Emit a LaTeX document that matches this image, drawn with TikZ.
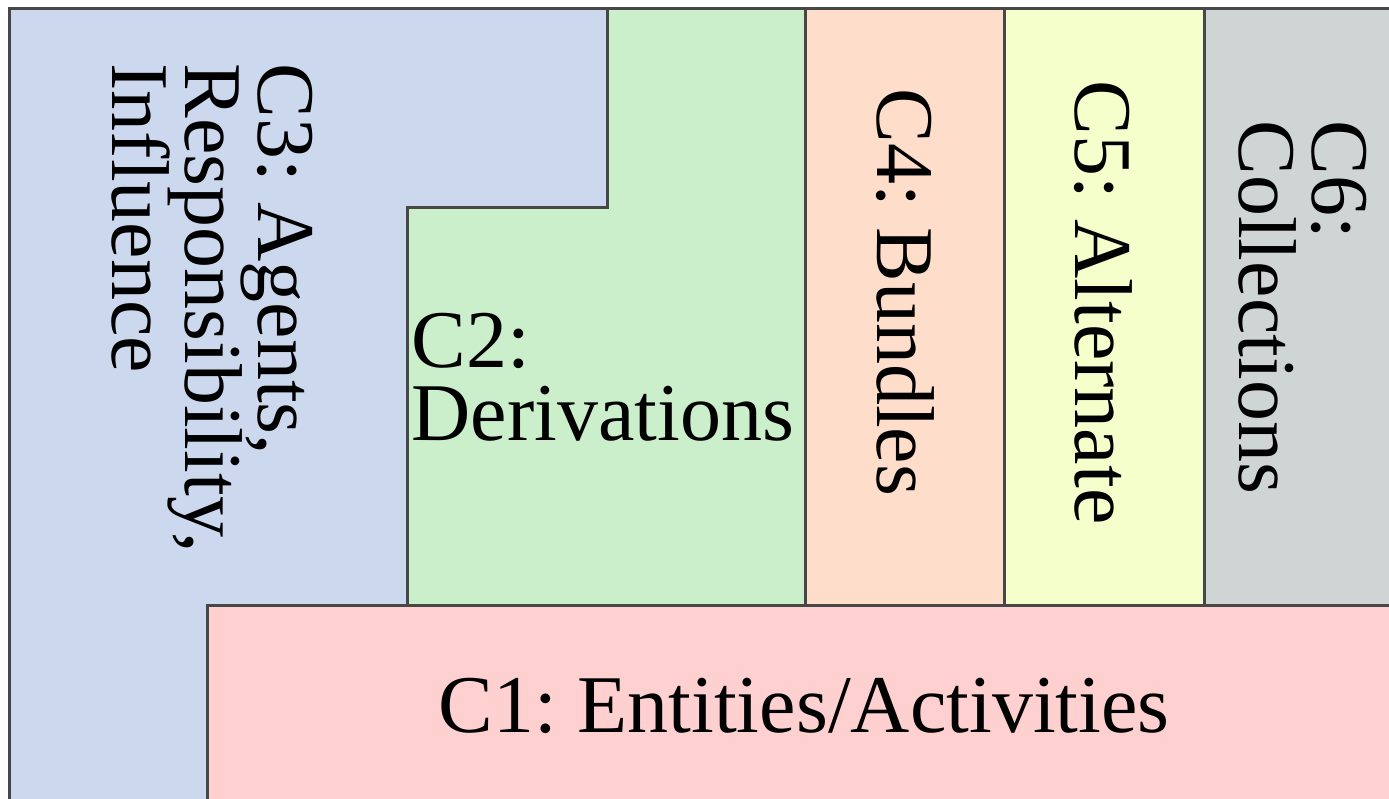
\documentclass[tikz,border=0pt]{standalone}
\usepackage{fontspec}
\setmainfont{Liberation Serif}
\frenchspacing
\definecolor{agentblue}{HTML}{CCD8EE}
\definecolor{derivgreen}{HTML}{CBEFCB}
\definecolor{bundlepeach}{HTML}{FFDDCB}
\definecolor{altyellow}{HTML}{F4FFCC}
\definecolor{collgray}{HTML}{CFD4D4}
\definecolor{entpink}{HTML}{FFD0D0}
\newcommand\partfont{\fontsize{41}{36.5}\selectfont
  \lineskiplimit=-20pt\relax\lineskip=0pt\relax}

\begin{document}
\begin{tikzpicture}[x=0.5pt,y=-0.5pt,
    part/.style={draw=black!72,line width=1.5pt},
    lbl/.style={inner sep=0pt,align=left,font=\partfont},
    vlbl/.style={lbl,rotate=-90}]
  \useasboundingbox (0,0) rectangle (1389,799);
  \clip (0,0) rectangle (1389,799);
  % components
  \draw[part,fill=agentblue] (9,8) -- (607,8) -- (607,207) -- (407,207) -- (407,605)
    -- (207,605) -- (207,830) -- (9,830) -- cycle;
  \draw[part,fill=derivgreen] (607,8) -- (805,8) -- (805,605) -- (407,605) -- (407,207)
    -- (607,207) -- cycle;
  \draw[part,fill=bundlepeach] (805,8) rectangle (1004,605);
  \draw[part,fill=altyellow] (1004,8) rectangle (1204,605);
  \draw[part,fill=collgray] (1204,8) rectangle (1420,605);
  \draw[part,fill=entpink] (207,605) rectangle (1420,830);
  % labels
  \node(C3)[vlbl,anchor=north west] at (313,63) {C3: Agents,\\Responsibility,\\Influence};
  \node(C2)[lbl,anchor=north west] at (411,313) {C2:\\Derivations};
  \node(C4)[vlbl,anchor=base west] at (877,88) {C4: Bundles};
  \node(C5)[vlbl,anchor=base west] at (1075,80) {C5: Alternate};
  \node(C6)[vlbl,anchor=north west] at (1367,120) {C6:\\Collections};
  \node(C1)[lbl,anchor=base] at (804,732) {C1: Entities/Activities};
\end{tikzpicture}
\end{document}
